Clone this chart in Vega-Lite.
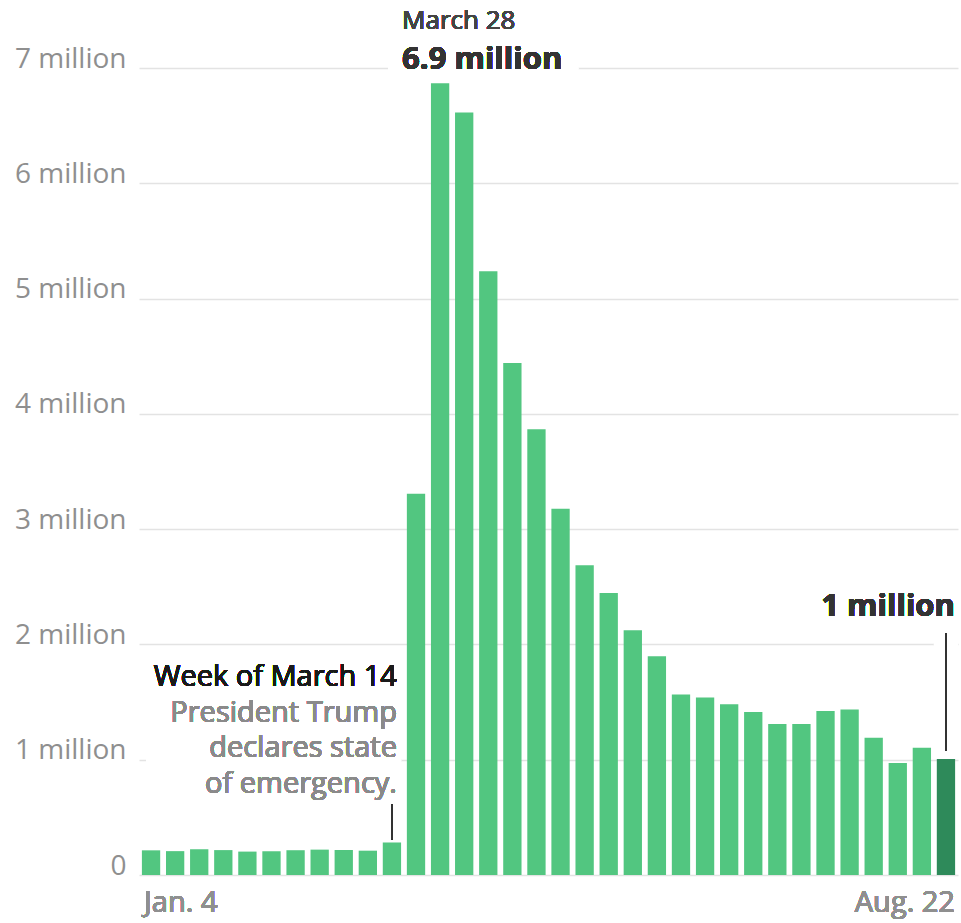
{
  "$schema": "https://vega.github.io/schema/vega-lite/v6.json",
  "autosize": "none",
  "padding": {"left": 139, "top": 68, "right": 3, "bottom": 48},
  "width": 819,
  "height": 807,
  "background": "white",
  "config": {"view": {"stroke": null}, "font": "Open Sans"},
  "data": {"values": [
    {"week": "Jan. 4", "claims": 214000},
    {"week": "Jan. 11", "claims": 207000},
    {"week": "Jan. 18", "claims": 223000},
    {"week": "Jan. 25", "claims": 216000},
    {"week": "Feb. 1", "claims": 203000},
    {"week": "Feb. 8", "claims": 206000},
    {"week": "Feb. 15", "claims": 215000},
    {"week": "Feb. 22", "claims": 220000},
    {"week": "Feb. 29", "claims": 217000},
    {"week": "Mar. 7", "claims": 211000},
    {"week": "Mar. 14", "claims": 282000},
    {"week": "Mar. 21", "claims": 3307000},
    {"week": "Mar. 28", "claims": 6867000},
    {"week": "Apr. 4", "claims": 6615000},
    {"week": "Apr. 11", "claims": 5237000},
    {"week": "Apr. 18", "claims": 4442000},
    {"week": "Apr. 25", "claims": 3867000},
    {"week": "May 2", "claims": 3176000},
    {"week": "May 9", "claims": 2687000},
    {"week": "May 16", "claims": 2446000},
    {"week": "May 23", "claims": 2123000},
    {"week": "May 30", "claims": 1897000},
    {"week": "June 6", "claims": 1566000},
    {"week": "June 13", "claims": 1540000},
    {"week": "June 20", "claims": 1482000},
    {"week": "June 27", "claims": 1413000},
    {"week": "July 4", "claims": 1310000},
    {"week": "July 11", "claims": 1309000},
    {"week": "July 18", "claims": 1422000},
    {"week": "July 25", "claims": 1435000},
    {"week": "Aug. 1", "claims": 1191000},
    {"week": "Aug. 8", "claims": 971000},
    {"week": "Aug. 15", "claims": 1104000},
    {"week": "Aug. 22", "claims": 1006000}
  ]},
  "encoding": {
    "x": {
      "field": "week", "type": "ordinal", "axis": null,
      "scale": {
        "domain": ["Jan. 4","Jan. 11","Jan. 18","Jan. 25","Feb. 1","Feb. 8","Feb. 15","Feb. 22","Feb. 29","Mar. 7","Mar. 14","Mar. 21","Mar. 28","Apr. 4","Apr. 11","Apr. 18","Apr. 25","May 2","May 9","May 16","May 23","May 30","June 6","June 13","June 20","June 27","July 4","July 11","July 18","July 25","Aug. 1","Aug. 8","Aug. 15","Aug. 22"],
        "paddingInner": 0.24, "paddingOuter": 0.12
      }
    }
  },
  "layer": [
    {
      "mark": {"type": "bar", "color": "#52c680"},
      "encoding": {
        "y": {
          "field": "claims", "type": "quantitative",
          "scale": {"domain": [0, 7000000], "nice": false, "zero": true},
          "axis": {
            "values": [0, 1000000, 2000000, 3000000, 4000000, 5000000, 6000000, 7000000],
            "labelExpr": "datum.value == 0 ? '0' : (datum.value / 1000000) + ' million'",
            "title": null, "domain": false, "ticks": false,
            "labelFont": "Open Sans", "labelFontSize": 28, "labelColor": "#8f8f8f",
            "labelPadding": 13, "labelBaseline": "alphabetic", "labelOffset": -1,
            "gridColor": "#e3e3e3", "gridWidth": 1.5
          }
        },
        "color": {
          "condition": {"test": "datum.week === 'Aug. 22'", "value": "#2e8a5a"},
          "value": "#52c680"
        }
      }
    },
    {
      "mark": {"type": "rect", "color": "white"},
      "encoding": {
        "x": {"datum": "Jan. 4", "type": "ordinal", "bandPosition": 0.25},
        "x2": {"datum": "Mar. 14", "bandPosition": 1},
        "y": {"datum": 600000, "type": "quantitative"},
        "y2": {"datum": 1500000}
      }
    },
    {
      "mark": {"type": "rect", "color": "white"},
      "encoding": {
        "x": {"datum": "Mar. 14", "type": "ordinal", "bandPosition": 0.3},
        "x2": {"datum": "May 9", "bandPosition": 0.15},
        "y": {"datum": 6950000, "type": "quantitative"},
        "y2": {"datum": 7100000}
      }
    },
    {
      "mark": {"type": "rule", "color": "white", "strokeWidth": 24},
      "encoding": {
        "x": {"datum": "Aug. 22", "type": "ordinal"},
        "y": {"datum": 1080000, "type": "quantitative"},
        "y2": {"datum": 2100000}
      }
    },
    {
      "mark": {"type": "rule", "color": "#c8c8c8", "strokeWidth": 1.5},
      "encoding": {
        "y": {"datum": 0, "type": "quantitative"}
      }
    },
    {
      "mark": {"type": "rule", "color": "#333333", "strokeWidth": 1.5},
      "encoding": {
        "x": {"datum": "Mar. 14", "type": "ordinal"},
        "y": {"datum": 310000, "type": "quantitative"},
        "y2": {"datum": 610000}
      }
    },
    {
      "mark": {"type": "rule", "color": "#333333", "strokeWidth": 1.5},
      "encoding": {
        "x": {"datum": "Aug. 22", "type": "ordinal"},
        "y": {"datum": 1080000, "type": "quantitative"},
        "y2": {"datum": 2100000}
      }
    },
    {
      "mark": {"type": "text", "text": "March 28", "align": "left", "baseline": "alphabetic", "dx": -38, "dy": -39, "fontSize": 26, "color": "#444444", "font": "Open Sans"},
      "encoding": {
        "x": {"datum": "Mar. 28", "type": "ordinal"},
        "y": {"datum": 7000000, "type": "quantitative"}
      }
    },
    {
      "mark": {"type": "text", "text": "6.9 million", "align": "left", "baseline": "alphabetic", "dx": -38, "dy": 1, "fontSize": 31, "fontWeight": "bold", "color": "#333333", "font": "Open Sans"},
      "encoding": {
        "x": {"datum": "Mar. 28", "type": "ordinal"},
        "y": {"datum": 7000000, "type": "quantitative"}
      }
    },
    {
      "mark": {"type": "text", "text": "1 million", "align": "right", "baseline": "alphabetic", "dx": 9, "dy": -28, "fontSize": 31, "fontWeight": "bold", "color": "#333333", "font": "Open Sans"},
      "encoding": {
        "x": {"datum": "Aug. 22", "type": "ordinal"},
        "y": {"datum": 2000000, "type": "quantitative"}
      }
    },
    {
      "mark": {"type": "text", "text": "Week of March 14", "align": "right", "baseline": "alphabetic", "dx": 5, "dy": -74, "fontSize": 29, "color": "#1a1a1a", "font": "Open Sans"},
      "encoding": {
        "x": {"datum": "Mar. 14", "type": "ordinal"},
        "y": {"datum": 1000000, "type": "quantitative"}
      }
    },
    {
      "mark": {"type": "text", "text": ["President Trump", "declares state", "of emergency."], "lineHeight": 35.7, "align": "right", "baseline": "alphabetic", "dx": 5, "dy": -38, "fontSize": 29, "color": "#8a8a8a", "font": "Open Sans"},
      "encoding": {
        "x": {"datum": "Mar. 14", "type": "ordinal"},
        "y": {"datum": 1000000, "type": "quantitative"}
      }
    },
    {
      "mark": {"type": "text", "text": "Jan. 4", "align": "left", "baseline": "alphabetic", "dx": -7, "dy": 37, "fontSize": 29, "color": "#8f8f8f", "font": "Open Sans"},
      "encoding": {
        "x": {"datum": "Jan. 4", "type": "ordinal"},
        "y": {"datum": 0, "type": "quantitative"}
      }
    },
    {
      "mark": {"type": "text", "text": "Aug. 22", "align": "right", "baseline": "alphabetic", "dx": 9, "dy": 37, "fontSize": 29, "color": "#8f8f8f", "font": "Open Sans"},
      "encoding": {
        "x": {"datum": "Aug. 22", "type": "ordinal"},
        "y": {"datum": 0, "type": "quantitative"}
      }
    }
  ]
}
